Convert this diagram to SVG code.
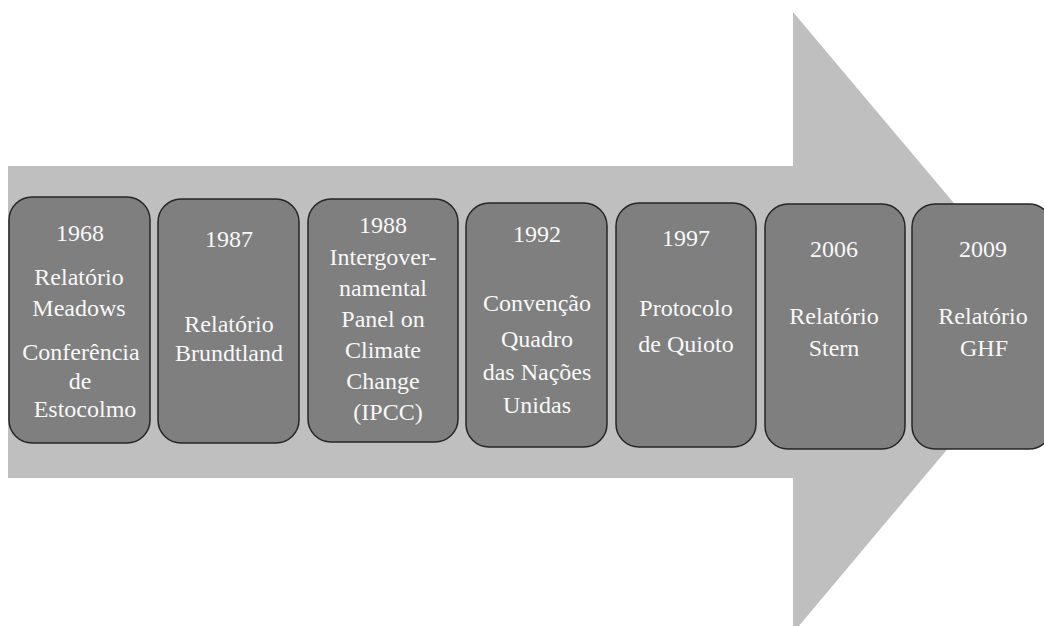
<svg xmlns="http://www.w3.org/2000/svg" width="1044" height="626" viewBox="0 0 1044 626">
<style>
.box{fill:#7f7f7f;stroke:#262626;stroke-width:1.5}
.t{font-family:"Liberation Serif","Times New Roman",serif;font-size:24px;fill:#f8f8f8;text-anchor:middle}
</style>
<rect width="1044" height="626" fill="#ffffff"/>
<polygon id="arrow" points="8,166 793,166 793,12 1054,322 793,633 793,478 8,478" fill="#bfbfbf"/>
<g id="connectors"></g>
<g id="n1968">
<rect class="box" x="9" y="197" width="141" height="246" rx="23"/>
<text class="t" x="80" y="241">1968</text>
<text class="t" x="79" y="285">Relatório</text>
<text class="t" x="79" y="316">Meadows</text>
<text class="t" x="81" y="360">Conferência</text>
<text class="t" x="80" y="389">de</text>
<text class="t" x="85" y="417">Estocolmo</text>
</g>
<g id="n1987">
<rect class="box" x="158" y="199" width="141" height="244" rx="23"/>
<text class="t" x="229" y="247">1987</text>
<text class="t" x="229" y="332">Relatório</text>
<text class="t" x="229" y="361">Brundtland</text>
</g>
<g id="n1988">
<rect class="box" x="308" y="199" width="150" height="243" rx="23"/>
<text class="t" x="383" y="233">1988</text>
<text class="t" x="383" y="265">Intergover-</text>
<text class="t" x="383" y="296">namental</text>
<text class="t" x="383" y="327">Panel on</text>
<text class="t" x="383" y="358">Climate</text>
<text class="t" x="383" y="389">Change</text>
<text class="t" x="388" y="420">(IPCC)</text>
</g>
<g id="n1992">
<rect class="box" x="466" y="203" width="141" height="244" rx="23"/>
<text class="t" x="537" y="242">1992</text>
<text class="t" x="537" y="311">Convenção</text>
<text class="t" x="537" y="347">Quadro</text>
<text class="t" x="537" y="380">das Nações</text>
<text class="t" x="537" y="413">Unidas</text>
</g>
<g id="n1997">
<rect class="box" x="616" y="203" width="140" height="244" rx="23"/>
<text class="t" x="686" y="246">1997</text>
<text class="t" x="686" y="316">Protocolo</text>
<text class="t" x="686" y="352">de Quioto</text>
</g>
<g id="n2006">
<rect class="box" x="765" y="204" width="140" height="245" rx="23"/>
<text class="t" x="834" y="257">2006</text>
<text class="t" x="834" y="324">Relatório</text>
<text class="t" x="834" y="356">Stern</text>
</g>
<g id="n2009">
<rect class="box" x="912" y="204" width="140" height="245" rx="23"/>
<text class="t" x="983" y="257">2009</text>
<text class="t" x="983" y="324">Relatório</text>
<text class="t" x="984" y="356">GHF</text>
</g>
</svg>
